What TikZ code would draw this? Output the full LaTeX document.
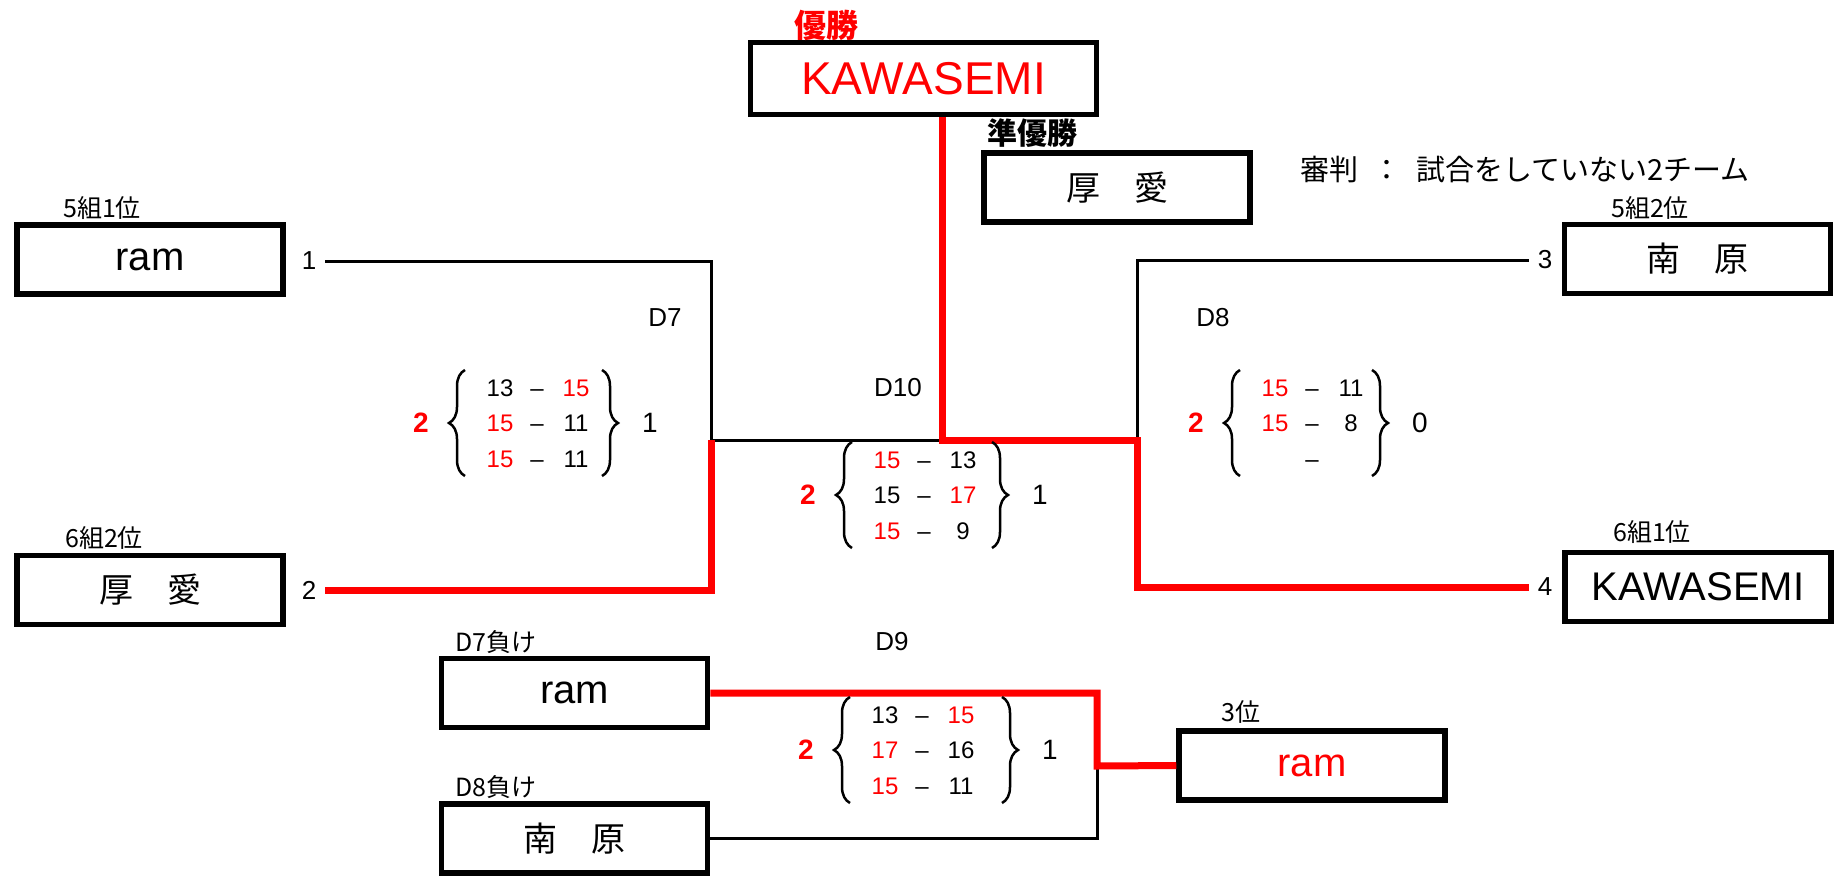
\documentclass[tikz,border=0pt]{standalone}
\usepackage{fontspec}
\setmainfont{Liberation Sans}
\newfontfamily\jp{Noto Sans CJK JP}
\usetikzlibrary{decorations.pathreplacing}
\definecolor{winred}{RGB}{255,0,0}
\newcommand{\fs}[1]{\fontsize{#1}{#1}\selectfont}
\newcommand{\win}[1]{\textcolor{winred}{#1}}
\edef\rowgap{35.5}
\edef\bracey{53}

\tikzset{
  team/.style={draw, line width=5.5pt, minimum width=266pt, minimum height=69pt,
    inner sep=0pt, font=\fs{40}},
  jpname/.style={font=\jp\fs{34}},
  grp/.style={font=\jp\fs{25}, inner sep=0pt},
  seed/.style={font=\fs{26}, inner sep=0pt, outer sep=9pt},
  match/.style={font=\fs{26}, inner sep=0pt},
  pts/.style={font=\fs{24}, inner sep=0pt, text height=17pt, text depth=0pt},
  sets/.style={font=\fs{28}, inner sep=0pt},
  setwin/.style={font=\bfseries\fs{28}, text=winred, inner sep=0pt},
  brace/.style={decorate, decoration={brace, amplitude=16pt}, line width=2.5pt},
  path/.style={line width=3pt},
  winpath/.style={line width=7pt, draw=winred},
}

% #1 name, #2 centre, #3 rows, #4 sets left, #5 sets right, #6 right brace
\newcommand{\scoreblock}[6]{%
  \begin{scope}[shift={#2}]
    \node[setwin] (#1won) at (-116,0) {#4};
    \foreach \a/\b [count=\i] in {#3} {
      \node[pts] (#1a\i) at (-37,{(\i-2)*\rowgap}) {\a};
      \node[pts] (#1m\i) at (0,{(\i-2)*\rowgap}) {\textendash};
      \node[pts] (#1b\i) at (39,{(\i-2)*\rowgap}) {\b};
    }
    \draw[brace] (-72,\bracey) -- (-72,-\bracey);
    \draw[brace] (#6,-\bracey) -- (#6,\bracey);
    \node[sets] (#1lost) at (#6+48,0) {#5};
  \end{scope}}

\begin{document}
\begin{tikzpicture}[x=1pt, y=-1pt]
  \useasboundingbox (0,0) rectangle (1842,881);

  % draw the boxes
  \node[team, text=winred, font=\fs{46}, minimum width=346pt, minimum height=72pt]
    (champ) at (923.5,78.5) {KAWASEMI};
  \node[team, jpname] (second) at (1117,187.5) {厚　愛};
  \node[team] (ram1) at (150,259.5) {ram};
  \node[team, jpname] (atsu) at (150,590) {厚　愛};
  \node[team, jpname] (minami) at (1697.5,259) {南　原};
  \node[team] (kawa) at (1698,587) {KAWASEMI};
  \node[team] (lose7) at (574.5,693) {ram};
  \node[team, jpname] (lose8) at (574.5,838.5) {南　原};
  \node[team, text=winred] (third) at (1312,765.5) {ram};

  % label the boxes
  \node[grp, font=\jp\bfseries\fs{32}, text=winred] (champlab) at (826,25) {優勝};
  \node[grp, font=\jp\bfseries\fs{30}] (secondlab) at (1032,133) {準優勝};
  \node[grp, font=\jp\fs{29}, anchor=west] (referee) at (1300,170)
    {審判\hspace{.5em}：\hspace{.5em}試合をしていない2チーム};
  \node[grp] (g1) at (102,208) {5組1位};
  \node[grp] (g2) at (104,538) {6組2位};
  \node[grp] (g3) at (1650,208) {5組2位};
  \node[grp] (g4) at (1652,532) {6組1位};
  \node[grp] (g7) at (496,642) {D7負け};
  \node[grp] (g8) at (496,787) {D8負け};
  \node[grp] (g3rd) at (1241,712) {3位};

  % seeds
  \node[seed] (n1) at (309,261) {1};
  \node[seed] (n2) at (309,590) {2};
  \node[seed] (n3) at (1545,260) {3};
  \node[seed] (n4) at (1545,587) {4};

  % match names
  \node[match] (m7) at (665,318) {D7};
  \node[match] (m8) at (1213,318) {D8};
  \node[match] (m10) at (898,388) {D10};
  \node[match] (m9) at (892,642) {D9};

  % the joints
  \coordinate (d7) at (711,440);
  \coordinate (d8) at (1137,440);
  \coordinate (d10) at (942,440);
  \coordinate (d9) at (1097,766);

  % the bracket
  \draw[path] (n1.east) -| (d7);
  \draw[path] (d7) -- (d10);
  \draw[path] (n3.west) -| (d8);
  \draw[path] (lose8.east) -| (d9);
  \draw[winpath] (n2.east) -| (d7);
  \draw[winpath] (n4.west) -| (d8) -- (d10) -- (d10 |- champ.south);
  \draw[winpath] (lose7.east) -| (d9) -- (third.west);

  % the scores
  \scoreblock{s7}{(537,423)}{13/\win{15}, \win{15}/11, \win{15}/11}{2}{1}{65}
  \scoreblock{s8}{(1312,423)}{\win{15}/11, \win{15}/8, {}/{}}{2}{0}{60}
  \scoreblock{s10}{(924,495)}{\win{15}/13, 15/\win{17}, \win{15}/9}{2}{1}{68}
  \scoreblock{s9}{(922,750)}{13/\win{15}, \win{17}/16, \win{15}/11}{2}{1}{80}
\end{tikzpicture}
\end{document}
